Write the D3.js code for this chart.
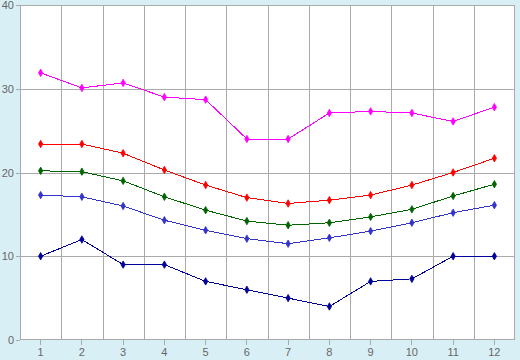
<!DOCTYPE html>
<html>
<head>
<meta charset="utf-8">
<script src="https://cdn.jsdelivr.net/npm/d3@7"></script>
<style>
body { margin: 0; background: #d9eff6; }
svg { display: block; font-family: "DejaVu Sans", sans-serif; }
</style>
</head>
<body>
<div id="chart"></div>
<script>
'use strict'

const months = ['1','2','3','4','5','6','7','8','9','10','11','12'];
const yTicks = [0, 10, 20, 30, 40];

const magenta = [31.9, 30.1, 30.7, 29.0, 28.7, 24.0, 24.0, 27.1, 27.3, 27.1, 26.1, 27.8];
const red     = [23.4, 23.4, 22.3, 20.3, 18.5, 17.0, 16.3, 16.7, 17.3, 18.5, 20.0, 21.7];
const green   = [20.2, 20.1, 19.0, 17.1, 15.5, 14.2, 13.7, 14.0, 14.7, 15.6, 17.2, 18.6];
const blue    = [17.3, 17.1, 16.0, 14.3, 13.1, 12.1, 11.5, 12.2, 13.0, 14.0, 15.2, 16.1];
const navy    = [10, 12, 9, 9, 7, 6, 5, 4, 7, 7.3, 10, 10];

const series = [
	{ values: magenta, color: '#ff00ff' },
	{ values: red, color: '#ff0000' },
	{ values: green, color: '#006400' },
	{ values: blue, color: '#3333cc' },
	{ values: navy, color: '#000099' }
];

const width = 520, height = 360;
const margin = { top: 5, right: 5, bottom: 20, left: 20 };

const svg = d3.select('#chart').append('svg')
	.attr('width', width)
	.attr('height', height);

svg.append('rect')
	.attr('width', width).attr('height', height)
	.attr('fill', '#d9eff6');

const x = d3.scaleBand()
	.domain(months)
	.range([margin.left, width - margin.right]);

const y = d3.scaleLinear()
	.domain([0, 40])
	.range([height - margin.bottom, margin.top]);

// plot background
svg.append('rect')
	.attr('x', margin.left).attr('y', margin.top)
	.attr('width', width - margin.left - margin.right)
	.attr('height', height - margin.top - margin.bottom)
	.attr('fill', '#fff');

// grid
const grid = svg.append('g').attr('stroke', '#aaa').attr('shape-rendering', 'crispEdges');
grid.selectAll('line.v')
	.data(months.slice(1))
	.enter().append('line')
		.attr('x1', d => Math.round(x(d)) + 0.5)
		.attr('x2', d => Math.round(x(d)) + 0.5)
		.attr('y1', margin.top)
		.attr('y2', height - margin.bottom);
grid.selectAll('line.h')
	.data(yTicks.slice(1, -1))
	.enter().append('line')
		.attr('x1', margin.left)
		.attr('x2', width - margin.right)
		.attr('y1', d => Math.round(y(d)) + 0.5)
		.attr('y2', d => Math.round(y(d)) + 0.5);

// frame
svg.append('rect')
	.attr('x', margin.left + 0.5).attr('y', margin.top + 0.5)
	.attr('width', width - margin.left - margin.right - 1)
	.attr('height', height - margin.top - margin.bottom - 1)
	.attr('fill', 'none')
	.attr('stroke', '#aaa')
	.attr('shape-rendering', 'crispEdges');

// axes
const xAxis = svg.append('g')
	.attr('transform', `translate(0,${height - margin.bottom})`)
	.call(d3.axisBottom(x).tickSize(5).tickPadding(3));
const yAxis = svg.append('g')
	.attr('transform', `translate(${margin.left},0)`)
	.call(d3.axisLeft(y).tickValues(yTicks).tickSize(4).tickPadding(2));

[xAxis, yAxis].forEach(a => {
	a.select('.domain').remove();
	a.selectAll('line').attr('stroke', '#aaa').attr('shape-rendering', 'crispEdges');
	a.selectAll('text').attr('fill', '#666').style('font-size', '11px');
});

// series
const line = d3.line()
	.x((d, i) => x(months[i]) + x.bandwidth() / 2)
	.y(d => y(d));

const marker = d3.symbol().type(d3.symbolDiamond).size(16);

for (let s of series) {
	svg.append('path')
		.datum(s.values)
		.attr('fill', 'none')
		.attr('stroke', s.color)
		.attr('stroke-width', 1)
		.attr('shape-rendering', 'crispEdges')
		.attr('d', line);

	svg.append('g').selectAll('path')
		.data(s.values)
		.enter().append('path')
			.attr('d', marker)
			.attr('transform', (d, i) => `translate(${x(months[i]) + x.bandwidth() / 2},${y(d)})`)
			.attr('fill', s.color)
			.attr('stroke', s.color)
			.attr('stroke-width', 0.8);
}
</script>
</body>
</html>
